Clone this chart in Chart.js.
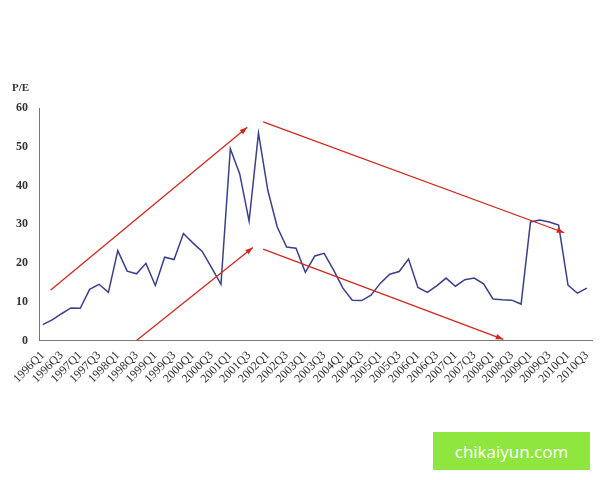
<!DOCTYPE html>
<html><head><meta charset="utf-8">
<script src="https://cdn.jsdelivr.net/npm/chart.js@4"></script>
<style>body{margin:0;background:#fff}#w{position:relative;width:600px;height:480px}
#wm{position:absolute;left:433px;top:432px;width:157px;height:38px;background:#8ee63f;color:#fff;font:17px "Open Sans",sans-serif;display:flex;align-items:center;justify-content:center}</style>
</head><body><div id="w"><canvas id="c" width="600" height="480"></canvas><div id="wm">chikaiyun.com</div></div>
<script>
const quarters=[];for(let y=1996;y<=2010;y++){for(let q=1;q<=4;q++){if(y===2010&&q>3)break;quarters.push(y+'Q'+q);}}
const peValues=[4.1,5.3,6.9,8.4,8.3,13.2,14.5,12.4,23.2,17.9,17.2,19.9,14.2,21.5,20.9,27.6,25.2,23.0,18.8,14.5,49.5,43,30.8,53.5,38.7,29.3,24.1,23.8,17.6,21.8,22.5,18.2,13.5,10.4,10.3,11.7,14.8,17.1,17.8,21.0,13.7,12.4,14.1,16.1,14.0,15.7,16.1,14.6,10.7,10.5,10.4,9.4,30.6,31.1,30.6,29.8,14.3,12.2,13.5];
const arrows=[[0.85,13,21.8,55],[10,0,22.4,24],[23.5,56.4,55.6,27.8],[23.5,23.6,49.1,0.3]];
const arrowPlugin={id:'arr',afterDatasetsDraw(ch){const {ctx,scales:{x,y}}=ch;ctx.save();ctx.strokeStyle='#d0281e';ctx.fillStyle='#d0281e';ctx.lineWidth=1.3;
for(const a of arrows){const x1=x.getPixelForValue(a[0]),y1=y.getPixelForValue(a[1]),x2=x.getPixelForValue(a[2]),y2=y.getPixelForValue(a[3]);
ctx.beginPath();ctx.moveTo(x1,y1);ctx.lineTo(x2,y2);ctx.stroke();const an=Math.atan2(y2-y1,x2-x1);ctx.beginPath();ctx.moveTo(x2,y2);
ctx.lineTo(x2-8*Math.cos(an-0.35),y2-8*Math.sin(an-0.35));ctx.lineTo(x2-8*Math.cos(an+0.35),y2-8*Math.sin(an+0.35));ctx.closePath();ctx.fill();}
ctx.fillStyle='#333';ctx.font='bold 11px "Liberation Serif"';ctx.fillText('P/E',12,91);ctx.restore();}};
new Chart(document.getElementById('c'),{type:'line',data:{datasets:[{data:peValues.map((v,i)=>({x:i,y:v})),borderColor:'#3a3f8a',borderWidth:1.5,pointRadius:0,tension:0}]},
options:{responsive:false,animation:false,layout:{padding:{left:13,right:6,top:108,bottom:91}},plugins:{legend:{display:false},tooltip:{enabled:false}},
scales:{x:{type:'linear',min:-0.4,max:58.6,grid:{display:false,drawTicks:true,tickLength:5},border:{color:'#777'},
afterBuildTicks(s){s.ticks=quarters.map((q,i)=>({value:i}));},
ticks:{autoSkip:false,maxRotation:45,minRotation:45,color:'#333',font:{family:'Liberation Serif',size:12},callback:(v)=>v%2===0?quarters[v]:''}},
y:{min:0,max:60,ticks:{stepSize:10,color:'#333',font:{family:'Liberation Serif',size:12,weight:'bold'}},grid:{display:false},border:{color:'#777'}}}},plugins:[arrowPlugin]});
</script></body></html>
